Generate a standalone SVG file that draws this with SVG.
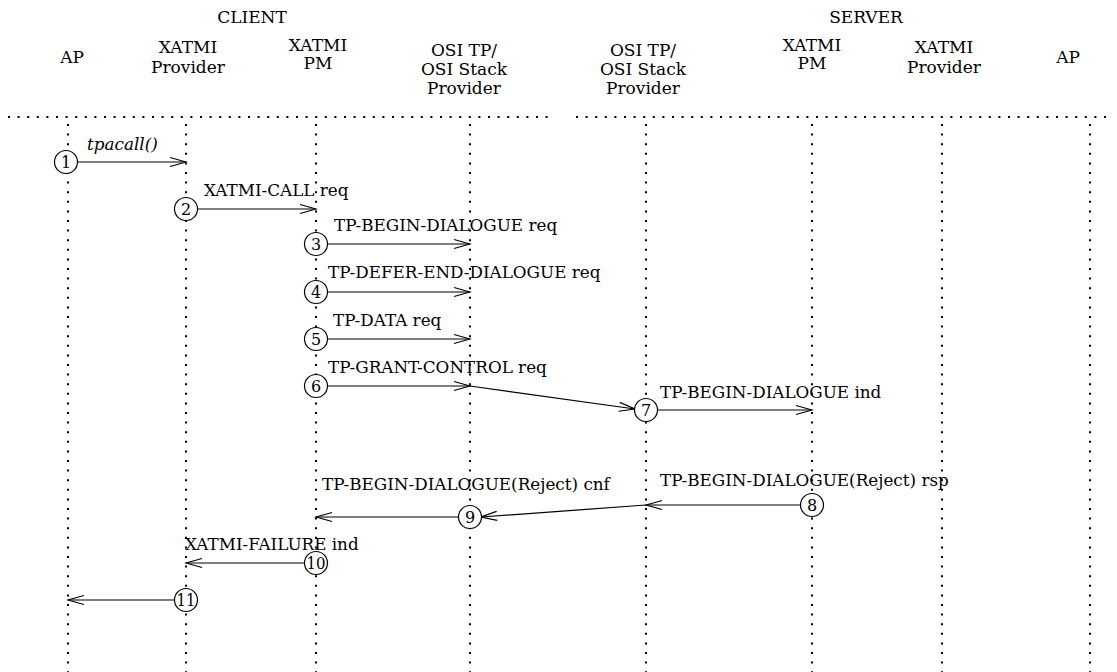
<svg xmlns="http://www.w3.org/2000/svg" width="1117" height="672" viewBox="0 0 1117 672">
<style>
text{font-family:"DejaVu Serif","Liberation Serif",serif;fill:#000}
.h{font-size:17px;text-anchor:middle}
.l{font-size:16.8px}
.n{font-size:16px;text-anchor:middle}
.dot{stroke:#000;stroke-width:2;stroke-dasharray:2 7.6;fill:none}
.ln{stroke:#000;stroke-width:1.2;fill:none}
.c{stroke:#000;stroke-width:1.2;fill:#fff}
</style>
<defs>
<marker id="ah" markerUnits="userSpaceOnUse" markerWidth="20" markerHeight="12" viewBox="-17 -6 18 12" refX="0" refY="0" orient="auto">
<path d="M-16,-4.5 L0,0 L-16,4.5" fill="none" stroke="#000" stroke-width="1.2"/>
</marker>
</defs>
<rect width="1117" height="672" fill="#fff"/>
<g id="headers">
<text class="h" x="252" y="23">CLIENT</text>
<text class="h" x="866" y="23">SERVER</text>
<text class="h" x="72" y="63">AP</text>
<text class="h" x="188" y="53">XATMI</text>
<text class="h" x="188" y="73">Provider</text>
<text class="h" x="318" y="51">XATMI</text>
<text class="h" x="318" y="69">PM</text>
<text class="h" x="464" y="56">OSI TP/</text>
<text class="h" x="464" y="75">OSI Stack</text>
<text class="h" x="464" y="94">Provider</text>
<text class="h" x="643" y="56">OSI TP/</text>
<text class="h" x="643" y="75">OSI Stack</text>
<text class="h" x="643" y="94">Provider</text>
<text class="h" x="812" y="51">XATMI</text>
<text class="h" x="812" y="69">PM</text>
<text class="h" x="944" y="53">XATMI</text>
<text class="h" x="944" y="73">Provider</text>
<text class="h" x="1068" y="63">AP</text>
</g>
<g id="lifelines">
<line class="dot" x1="8" y1="117" x2="553" y2="117"/>
<line class="dot" x1="576" y1="117" x2="1112" y2="117"/>
<line class="dot" x1="68" y1="124" x2="68" y2="672"/>
<line class="dot" x1="186" y1="124" x2="186" y2="672"/>
<line class="dot" x1="316" y1="124" x2="316" y2="672"/>
<line class="dot" x1="470" y1="124" x2="470" y2="672"/>
<line class="dot" x1="646" y1="124" x2="646" y2="672"/>
<line class="dot" x1="812" y1="124" x2="812" y2="672"/>
<line class="dot" x1="942" y1="124" x2="942" y2="672"/>
<line class="dot" x1="1090" y1="124" x2="1090" y2="672"/>
</g>
<g id="connectors">
<line class="ln" x1="77" y1="162" x2="186" y2="162" marker-end="url(#ah)"/>
<line class="ln" x1="197" y1="209" x2="316" y2="209" marker-end="url(#ah)"/>
<line class="ln" x1="327" y1="244" x2="470" y2="244" marker-end="url(#ah)"/>
<line class="ln" x1="327" y1="292" x2="470" y2="292" marker-end="url(#ah)"/>
<line class="ln" x1="327" y1="339" x2="470" y2="339" marker-end="url(#ah)"/>
<line class="ln" x1="327" y1="386" x2="470" y2="386" marker-end="url(#ah)"/>
<line class="ln" x1="470" y1="386" x2="635" y2="409" marker-end="url(#ah)"/>
<line class="ln" x1="657" y1="410" x2="812" y2="410" marker-end="url(#ah)"/>
<line class="ln" x1="801" y1="505" x2="646" y2="505" marker-end="url(#ah)"/>
<line class="ln" x1="646" y1="505" x2="481" y2="517" marker-end="url(#ah)"/>
<line class="ln" x1="459" y1="517" x2="316" y2="517" marker-end="url(#ah)"/>
<line class="ln" x1="305" y1="563" x2="186" y2="563" marker-end="url(#ah)"/>
<line class="ln" x1="175" y1="600" x2="68" y2="600" marker-end="url(#ah)"/>
</g>
<g id="labels">
<text class="l" x="87" y="150" font-style="italic">tpacall()</text>
<text class="l" x="204" y="196">XATMI-CALL req</text>
<text class="l" x="334" y="231">TP-BEGIN-DIALOGUE req</text>
<text class="l" x="328" y="278">TP-DEFER-END-DIALOGUE req</text>
<text class="l" x="333" y="326">TP-DATA req</text>
<text class="l" x="328" y="373">TP-GRANT-CONTROL req</text>
<text class="l" x="660" y="398">TP-BEGIN-DIALOGUE ind</text>
<text class="l" x="660" y="486">TP-BEGIN-DIALOGUE(Reject) rsp</text>
<text class="l" x="322" y="490">TP-BEGIN-DIALOGUE(Reject) cnf</text>
<text class="l" x="185" y="550">XATMI-FAILURE ind</text>
</g>
<g id="n1"><circle class="c" cx="66" cy="162" r="11.5"/><text class="n" x="66" y="168">1</text></g>
<g id="n2"><circle class="c" cx="186" cy="209" r="11.5"/><text class="n" x="186" y="215">2</text></g>
<g id="n3"><circle class="c" cx="316" cy="244" r="11.5"/><text class="n" x="316" y="250">3</text></g>
<g id="n4"><circle class="c" cx="316" cy="292" r="11.5"/><text class="n" x="316" y="298">4</text></g>
<g id="n5"><circle class="c" cx="316" cy="339" r="11.5"/><text class="n" x="316" y="345">5</text></g>
<g id="n6"><circle class="c" cx="316" cy="386" r="11.5"/><text class="n" x="316" y="392">6</text></g>
<g id="n7"><circle class="c" cx="646" cy="410" r="11.5"/><text class="n" x="646" y="416">7</text></g>
<g id="n8"><circle class="c" cx="812" cy="505" r="11.5"/><text class="n" x="812" y="511">8</text></g>
<g id="n9"><circle class="c" cx="470" cy="517" r="11.5"/><text class="n" x="470" y="523">9</text></g>
<g id="n10"><circle class="c" cx="316" cy="563" r="11.5"/><text class="n" x="316" y="569" textLength="19" lengthAdjust="spacingAndGlyphs">10</text></g>
<g id="n11"><circle class="c" cx="186" cy="600" r="11.5"/><text class="n" x="186" y="606" textLength="19" lengthAdjust="spacingAndGlyphs">11</text></g>
</svg>
